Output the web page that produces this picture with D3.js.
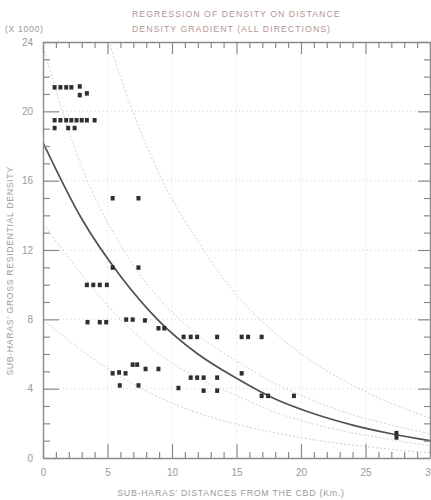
<!DOCTYPE html>
<html>
<head>
<meta charset="utf-8">
<script src="https://cdn.jsdelivr.net/npm/d3@7"></script>
<style>
  html, body { margin: 0; padding: 0; background: #fff; }
  svg { display: block; }
  text { font-family: "Liberation Sans", Arial, sans-serif; }
</style>
</head>
<body>
<svg id="chart" width="431" height="500"></svg>
<script>
// ---- data ----
const titleLines = ["REGRESSION OF DENSITY ON DISTANCE", "DENSITY GRADIENT (ALL DIRECTIONS)"];
const unitLabel = "(X 1000)";
const xLabel = "SUB-HARAS' DISTANCES FROM THE CBD (Km.)";
const yLabel = "SUB-HARAS' GROSS RESIDENTIAL DENSITY";

const xTicks = [0, 5, 10, 15, 20, 25, 30];
const yTicks = [0, 4, 8, 12, 16, 20, 24];

// observed sub-haras (distance km, density x1000)
const obsX = [0.9,1.35,1.8,2.2,2.85,2.85,3.4,
  0.9,1.35,1.8,2.2,2.6,3.0,3.4,4.0,
  0.9,1.95,2.45,
  5.4,7.4, 5.4,7.4,
  3.4,3.9,4.4,4.95,
  3.45,4.4,4.9, 6.45,6.95,7.9, 8.95,9.4,
  10.9,11.45,11.95,13.5,15.4,15.9,16.95,
  6.95,7.3,7.95,8.95,
  5.4,5.9,6.4,
  5.95,7.4,10.5,
  11.45,11.95,12.45,13.5,15.4,
  12.45,13.5,
  16.95,17.45,19.45,
  27.4,27.4];
const obsY = [21.4,21.4,21.4,21.4,21.45,20.95,21.05,
  19.5,19.5,19.5,19.5,19.5,19.5,19.5,19.5,
  19.05,19.05,19.05,
  15.0,15.0, 11.0,11.0,
  10.0,10.0,10.0,10.0,
  7.85,7.85,7.85, 8.0,8.0,7.95, 7.5,7.5,
  7.0,7.0,7.0,7.0,7.0,7.0,7.0,
  5.4,5.4,5.15,5.15,
  4.9,4.95,4.9,
  4.2,4.2,4.05,
  4.65,4.65,4.65,4.65,4.9,
  3.9,3.9,
  3.6,3.6,3.6,
  1.45,1.2];

// fitted curve and bands, read at these distances
const curveX     = [0, 3, 6, 9, 12, 15, 18, 21, 24, 27, 30];
const fitY       = [18.2, 13.8, 10.5, 7.9, 6.0, 4.6, 3.4, 2.55, 1.9, 1.4, 1.0];
const innerHiY   = [23.7, 16.8, 12.3, 9.2, 7.1, 5.6, 4.3, 3.3, 2.5, 1.9, 1.4];
const innerLoY   = [13.5, 10.6, 8.0, 6.0, 4.6, 3.6, 2.65, 1.95, 1.45, 1.05, 0.7];
const outerHiY   = [40.0, 29.7, 22.0, 16.4, 12.5, 9.4, 7.2, 5.5, 4.2, 3.15, 2.3];
const outerLoY   = [8.0, 6.2, 4.7, 3.5, 2.6, 1.95, 1.45, 1.05, 0.75, 0.5, 0.3];

// ---- drawing ----
const svg = d3.select("#chart");
const L = 43, R = 430, T = 42, B = 458;
const x = d3.scaleLinear().domain([0, 30]).range([L, R]);
const y = d3.scaleLinear().domain([0, 24]).range([B, T]);

const axisColor = "#8a8a8a";
const textColor = "#9a9a9a";

svg.append("defs").append("clipPath").attr("id", "plot")
  .append("rect").attr("x", L).attr("y", T).attr("width", R - L).attr("height", B - T);

// faint dotted grid
const grid = svg.append("g").attr("stroke", "#d6d6d6").attr("stroke-width", 1)
  .attr("stroke-dasharray", "1,3");
grid.selectAll("line.h").data(yTicks.slice(1, -1)).join("line")
  .attr("x1", L).attr("x2", R).attr("y1", d => y(d)).attr("y2", d => y(d));
grid.selectAll("line.v").data(xTicks.slice(1, -1)).join("line")
  .attr("x1", d => x(d)).attr("x2", d => x(d)).attr("y1", T).attr("y2", B);

// bands
const pts = ys => curveX.map((d, i) => [d, ys[i]]);
const line = d3.line().x(d => x(d[0])).y(d => y(d[1])).curve(d3.curveMonotoneX);
const curves = svg.append("g").attr("clip-path", "url(#plot)").attr("fill", "none");
[outerHiY, outerLoY].forEach(ys => curves.append("path").attr("d", line(pts(ys)))
  .attr("stroke", "#cfcfcf").attr("stroke-width", 1).attr("stroke-dasharray", "2,2"));
[innerHiY, innerLoY].forEach(ys => curves.append("path").attr("d", line(pts(ys)))
  .attr("stroke", "#d2d2d2").attr("stroke-width", 1).attr("stroke-dasharray", "2,2"));
curves.append("path").attr("d", line(pts(fitY)))
  .attr("stroke", "#505050").attr("stroke-width", 1.7);

// axes: frame with inward ticks
function styleAxis(g) {
  g.select(".domain").attr("stroke", axisColor).attr("stroke-width", 1.4);
  g.selectAll(".tick line").attr("stroke", axisColor).attr("stroke-width", 1.2);
  g.selectAll("text").attr("fill", textColor).attr("font-size", 10);
}
const minorX = d3.range(0, 31, 1).filter(d => d % 5 !== 0);
const minorY = d3.range(0, 25, 1).filter(d => d % 4 !== 0);
const minorStyle = g => { g.select(".domain").remove(); g.selectAll("line").attr("stroke", axisColor).attr("stroke-width", 1.2); };

// bottom
const gb = svg.append("g").attr("transform", `translate(0,${B})`);
gb.call(d3.axisBottom(x).tickValues(xTicks).tickSizeInner(-14).tickSizeOuter(0).tickPadding(11)
  .tickFormat(d3.format("d")));
styleAxis(gb);
gb.append("g").call(d3.axisBottom(x).tickValues(minorX).tickSize(-6).tickFormat("")).call(minorStyle);

// top
const gt = svg.append("g").attr("transform", `translate(0,${T})`);
gt.call(d3.axisTop(x).tickValues(xTicks).tickSizeInner(-12).tickSizeOuter(0).tickFormat(""));
styleAxis(gt);
gt.append("g").call(d3.axisTop(x).tickValues(minorX).tickSize(-6).tickFormat("")).call(minorStyle);

// left
const gl = svg.append("g").attr("transform", `translate(${L},0)`);
gl.call(d3.axisLeft(y).tickValues(yTicks).tickSizeInner(-16).tickSizeOuter(0).tickPadding(10)
  .tickFormat(d3.format("d")));
styleAxis(gl);
gl.append("g").call(d3.axisLeft(y).tickValues(minorY).tickSize(-7).tickFormat("")).call(minorStyle);

// right
const gr = svg.append("g").attr("transform", `translate(${R},0)`);
gr.call(d3.axisRight(y).tickValues(yTicks).tickSizeInner(-12).tickSizeOuter(0).tickFormat(""));
styleAxis(gr);
gr.append("g").call(d3.axisRight(y).tickValues(minorY).tickSize(-6).tickFormat("")).call(minorStyle);

// observations
svg.append("g").attr("fill", "#2e2e2e")
  .selectAll("rect").data(obsX.map((d, i) => [d, obsY[i]])).join("rect")
  .attr("x", d => x(d[0]) - 2).attr("y", d => y(d[1]) - 2)
  .attr("width", 4).attr("height", 4.5);

// texts
svg.append("g").selectAll("text").data(titleLines).join("text")
  .attr("x", 132).attr("y", (d, i) => 17 + i * 15)
  .attr("font-size", 8.8).attr("letter-spacing", 1.0)
  .attr("fill", "#b89494").text(d => d);

svg.append("text").attr("x", 5).attr("y", 32).attr("font-size", 8.8)
  .attr("letter-spacing", 0.6).attr("fill", textColor).text(unitLabel);

svg.append("text").attr("x", 231).attr("y", 496).attr("text-anchor", "middle")
  .attr("font-size", 8.8).attr("letter-spacing", 0.75).attr("fill", textColor).text(xLabel);

svg.append("text").attr("transform", "translate(13,271) rotate(-90)")
  .attr("text-anchor", "middle").attr("font-size", 8.8).attr("letter-spacing", 0.6)
  .attr("fill", textColor).text(yLabel);
</script>
</body>
</html>
